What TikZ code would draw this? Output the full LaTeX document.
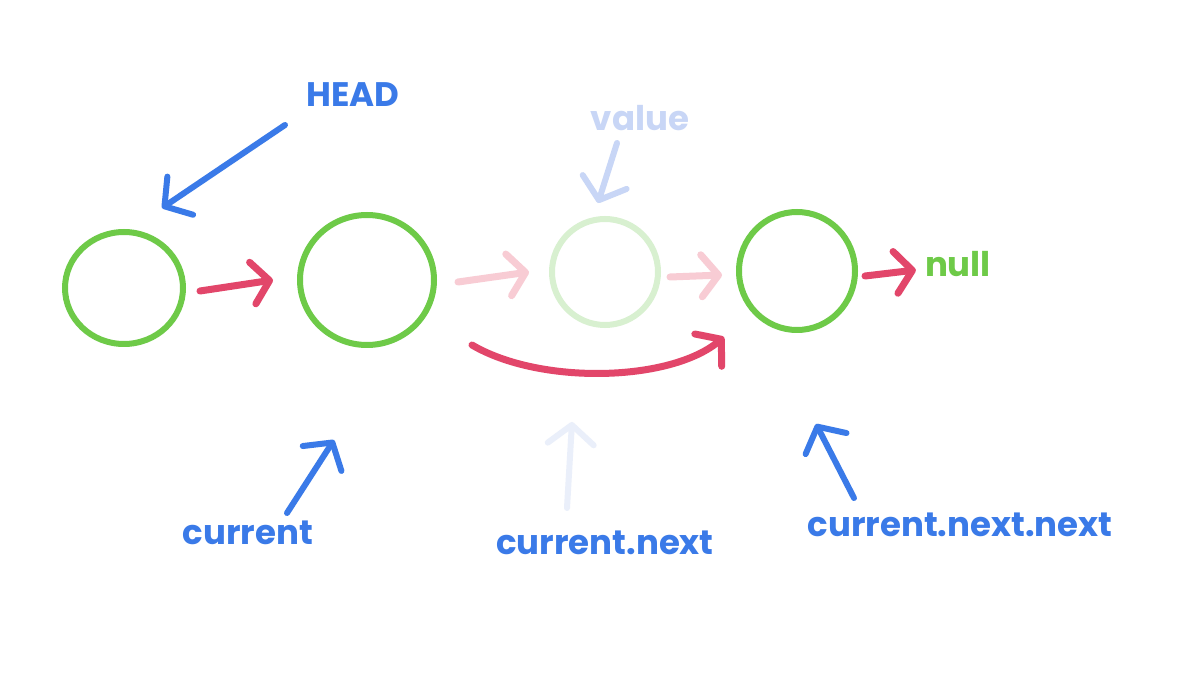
\documentclass[tikz,border=0pt]{standalone}
\usepackage{fontspec}
\setmainfont{Poppins}
\usetikzlibrary{arrows.meta,shapes.geometric}
\definecolor{ngreen}{RGB}{110,202,72}
\definecolor{fgreen}{RGB}{216,240,208}
\definecolor{nred}{RGB}{226,70,106}
\definecolor{fred}{RGB}{248,204,212}
\definecolor{nblue}{RGB}{58,122,232}
\definecolor{fblue}{RGB}{200,214,246}
\definecolor{ffblue}{RGB}{234,239,250}
\tikzset{
  nodecirc/.style={ellipse, draw=ngreen, line width=6pt, inner sep=0pt},
  fadecirc/.style={ellipse, draw=fgreen, line width=6pt, inner sep=0pt},
  link/.style={line width=7pt, line cap=round, line join=round, -{Straight Barb[length=17pt,width=42pt,line width=7pt,round]}},
  redlink/.style={link, draw=nred},
  fadelink/.style={link, draw=fred},
  pointer/.style={line width=6pt, line cap=round, line join=round, -{Straight Barb[length=19pt,width=46pt,line width=6pt,round]}},
  lab/.style={font=\fontsize{34}{36}\selectfont\bfseries, inner sep=0pt}
}
\begin{document}
\begin{tikzpicture}[x=1pt,y=-1pt]
\useasboundingbox[fill=white] (0,0) rectangle (1200,700);
% nodes
\node[nodecirc, minimum width=118pt, minimum height=112pt] (c1) at (124,288) {};
\node[nodecirc, minimum width=134pt, minimum height=130pt] (c2) at (367,280) {};
\node[fadecirc, minimum width=106pt, minimum height=106pt] (c3) at (605,272) {};
\node[nodecirc, minimum width=116pt, minimum height=118pt] (c4) at (797,271) {};
% labels
\node[lab, text=nblue] (head) at (353,95) {HEAD};
\node[lab, text=fblue] (value) at (640,118) {value};
\node[lab, text=ngreen] (null) at (958,264) {null};
\node[lab, text=nblue] (cur) at (248,533) {current};
\node[lab, text=nblue] (curn) at (605,543) {current.next};
\node[lab, text=nblue] (curnn) at (960,525) {current.next.next};
% pointer ends
\coordinate (h1) at (285,125);
\coordinate (h2) at (162,208);
\coordinate (v1) at (617,143);
\coordinate (v2) at (598,203);
\coordinate (p1) at (287,513);
\coordinate (p2) at (334,440);
\coordinate (q1) at (567,508);
\coordinate (q2) at (572,422);
\coordinate (r1) at (854,498);
\coordinate (r2) at (816,424);
% links
\draw[redlink] ([xshift=14pt,yshift=-3pt]c1.east) -- ([xshift=-24pt]c2.west);
\draw[fadelink] ([xshift=21pt,yshift=-2pt]c2.east) -- ([xshift=-20pt]c3.west);
\draw[fadelink] ([xshift=9pt,yshift=-5pt]c3.east) -- ([xshift=-14pt,yshift=-4pt]c4.west);
\draw[redlink] ([xshift=7pt,yshift=-5pt]c4.east) -- ([xshift=-9pt,yshift=-6pt]null.west);
\coordinate (s1) at (472,345);
\coordinate (s2) at (724,337);
\draw[redlink] (s1) .. controls (540,385) and (670,382) .. (s2);
% pointers
\draw[pointer, draw=nblue] (h1) -- (h2);
\draw[pointer, draw=fblue] (v1) -- (v2);
\draw[pointer, draw=nblue] (p1) -- (p2);
\draw[pointer, draw=ffblue] (q1) -- (q2);
\draw[pointer, draw=nblue] (r1) -- (r2);
\end{tikzpicture}
\end{document}
